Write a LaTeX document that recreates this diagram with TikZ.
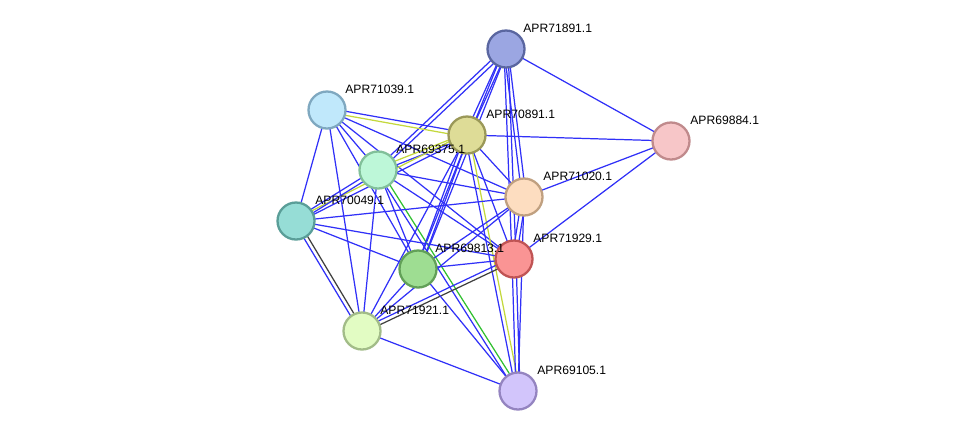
\documentclass[tikz,border=0pt]{standalone}
\usepackage{fontspec}
\setmainfont{Liberation Sans}
\usetikzlibrary{calc,backgrounds}
\definecolor{evblue}  {HTML}{3030F8}
\definecolor{evyellow}{HTML}{C4D83C}
\definecolor{evgreen} {HTML}{30C030}
\definecolor{evblack} {HTML}{404040}
% protein fill / border colours
\definecolor{aline}{HTML}{5A66A0} \definecolor{afill}{HTML}{9BA6E2}
\definecolor{bline}{HTML}{7FA8C0} \definecolor{bfill}{HTML}{C0E8FB}
\definecolor{cline}{HTML}{9A9858} \definecolor{cfill}{HTML}{DEDC97}
\definecolor{dline}{HTML}{C08A8C} \definecolor{dfill}{HTML}{F7C6C8}
\definecolor{eline}{HTML}{82C09A} \definecolor{efill}{HTML}{BDF7D8}
\definecolor{fline}{HTML}{C0A080} \definecolor{ffill}{HTML}{FDDDC0}
\definecolor{gline}{HTML}{5A9E98} \definecolor{gfill}{HTML}{96DDD6}
\definecolor{hline}{HTML}{C05454} \definecolor{hfill}{HTML}{FA9494}
\definecolor{iline}{HTML}{62A058} \definecolor{ifill}{HTML}{9EDD92}
\definecolor{jline}{HTML}{A2BC88} \definecolor{jfill}{HTML}{E2FCC3}
\definecolor{kline}{HTML}{9484C0} \definecolor{kfill}{HTML}{D2C5FB}
\tikzset{
  prot/.style={
    circle, minimum size=0.74cm, inner sep=0pt, line width=1.3pt,
    draw=#1line, fill=#1fill
  },
  protlabel/.style={
    anchor=west, inner sep=0pt, text=black,
    font=\fontsize{6.9}{8}\selectfont
  },
  evline/.style={line width=0.7pt}
}
% draw one edge as several parallel evidence lines
\newcommand{\evedge}[3]{%
  \foreach \c/\o in {#3}{%
    \draw[evline, draw=\c] ($(#1)!\o*1.15pt!90:(#2)$) -- ($(#2)!\o*1.15pt!-90:(#1)$);
  }%
}

\begin{document}
\begin{tikzpicture}[x=0.02cm, y=-0.02cm]
  \useasboundingbox (0,0) rectangle (976,437);

  % proteins
  \node[prot=a] (a) at (506,49) {};
  \node[prot=b] (b) at (327,110) {};
  \node[prot=c] (c) at (467,135) {};
  \node[prot=d] (d) at (671,141) {};
  \node[prot=e] (e) at (378,170) {};
  \node[prot=f] (f) at (524,197) {};
  \node[prot=g] (g) at (296,221) {};
  \node[prot=h] (h) at (514,259) {};
  \node[prot=i] (i) at (418,269) {};
  \node[prot=j] (j) at (362,331) {};
  \node[prot=k] (k) at (518,391) {};

  \node[protlabel] (la) at ($(a)+(17,-21)$) {APR71891.1};
  \node[protlabel] (lb) at ($(b)+(18,-21)$) {APR71039.1};
  \node[protlabel] (lc) at ($(c)+(19,-21)$) {APR70891.1};
  \node[protlabel] (ld) at ($(d)+(19,-21)$) {APR69884.1};
  \node[protlabel] (le) at ($(e)+(18,-21)$) {APR69375.1};
  \node[protlabel] (lf) at ($(f)+(19,-21)$) {APR71020.1};
  \node[protlabel] (lg) at ($(g)+(19,-21)$) {APR70049.1};
  \node[protlabel] (lh) at ($(h)+(19,-21)$) {APR71929.1};
  \node[protlabel] (li) at ($(i)+(17,-21)$) {APR69813.1};
  \node[protlabel] (lj) at ($(j)+(18,-21)$) {APR71921.1};
  \node[protlabel] (lk) at ($(k)+(19,-21)$) {APR69105.1};

  \begin{scope}[on background layer]
    \fill[white] (0,0) rectangle (976,437);
    \evedge{a}{d}{evblue/0}
    \evedge{a}{c}{evblue/-1,evblue/1}
    \evedge{a}{e}{evblue/-1,evblue/1}
    \evedge{a}{i}{evblue/-1,evblue/1}
    \evedge{a}{f}{evblue/-1,evblue/1}
    \evedge{a}{h}{evblue/-1,evblue/1}
    \evedge{b}{c}{evyellow/-1,evblue/1}
    \evedge{b}{e}{evblue/0}
    \evedge{b}{f}{evblue/0}
    \evedge{b}{h}{evblue/0}
    \evedge{b}{i}{evblue/0}
    \evedge{b}{g}{evblue/0}
    \evedge{b}{j}{evblue/0}
    \evedge{e}{c}{evblue/-1,evyellow/1}
    \evedge{g}{c}{evblue/-1,evyellow/1}
    \evedge{e}{k}{evblue/-1,evgreen/1}
    \evedge{e}{f}{evblue/0}
    \evedge{e}{h}{evblue/0}
    \evedge{e}{i}{evblue/0}
    \evedge{e}{g}{evblue/-1,evblue/1}
    \evedge{e}{j}{evblue/0}
    \evedge{c}{d}{evblue/0}
    \evedge{c}{f}{evblue/0}
    \evedge{c}{h}{evblue/0}
    \evedge{c}{k}{evblue/-1,evyellow/1}
    \evedge{c}{i}{evblue/-1,evblue/1}
    \evedge{c}{j}{evblue/0}
    \evedge{d}{f}{evblue/0}
    \evedge{d}{h}{evblue/0}
    \evedge{f}{g}{evblue/0}
    \evedge{f}{h}{evblue/-1,evblue/1}
    \evedge{f}{i}{evblue/0}
    \evedge{f}{j}{evblue/0}
    \evedge{f}{k}{evblue/0}
    \evedge{g}{h}{evblue/0}
    \evedge{g}{i}{evblue/0}
    \evedge{g}{j}{evblue/-1,evblack/1}
    \evedge{h}{i}{evblue/0}
    \evedge{h}{j}{evblue/-1,evblack/1}
    \evedge{h}{k}{evblue/-1,evblue/1}
    \evedge{i}{j}{evblue/0}
    \evedge{i}{k}{evblue/0}
    \evedge{j}{k}{evblue/0}
  \end{scope}
\end{tikzpicture}
\end{document}
